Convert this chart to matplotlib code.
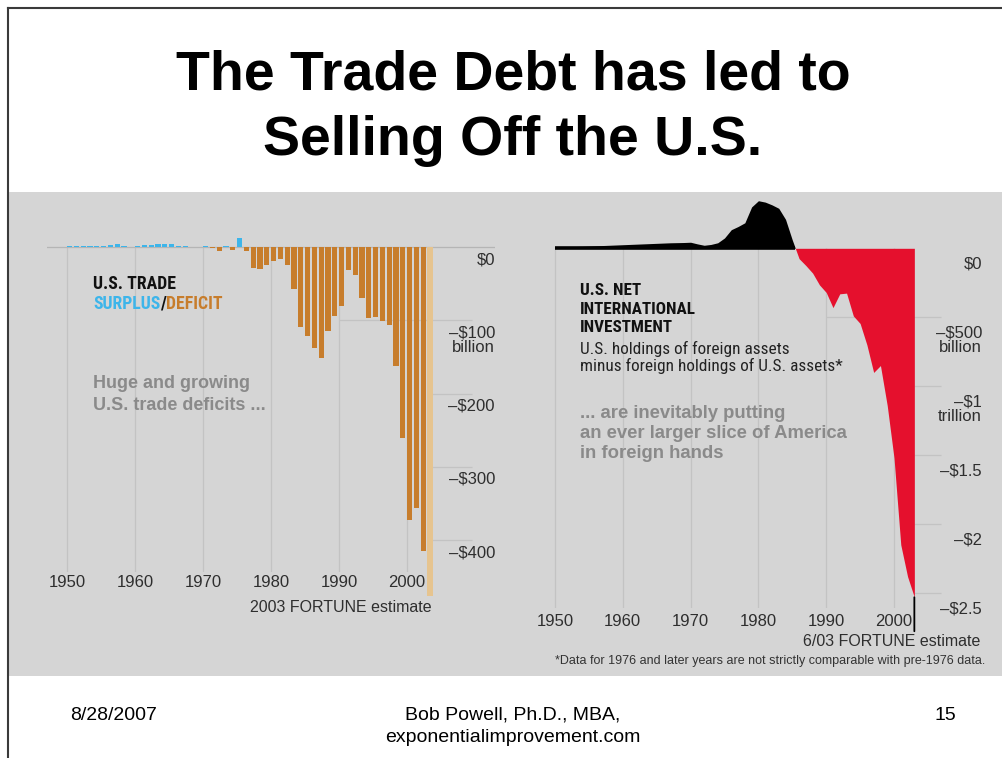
import numpy as np
import matplotlib
matplotlib.use('Agg')
import matplotlib.pyplot as plt
from matplotlib import font_manager
from matplotlib.patches import Rectangle
from matplotlib.lines import Line2D

W, H = 1003, 758

# ---- data ----
trade_years = np.arange(1950, 2004)
# U.S. trade surplus/deficit, $ billion (2003 = FORTUNE estimate)
trade_balance = [1.5, 2, 2, 1.5, 2, 2, 3, 4.5, 2, 0.5,
                 2, 2.5, 3, 3.5, 4.5, 4, 2, 2, 0.5, 0.3,
                 2, -1.5, -5, 2, -4, 12, -6, -28, -30, -24,
                 -19.5, -17, -24, -57, -109, -122, -138, -151, -114, -94,
                 -81, -31, -38, -70, -97, -95, -101, -106, -163, -260,
                 -372, -356, -415, -476]
trade_ticks = [0, -100, -200, -300, -400]
trade_labels = ['$0', '\u2013$100\nbillion', '\u2013$200', '\u2013$300', '\u2013$400']

niip_years = np.arange(1950, 2004)
# U.S. net international investment position, $ billion
niip = [10, 11, 12, 13, 14, 16, 18, 20, 22, 24,
        26, 28, 30, 32, 34, 36, 38, 40, 41, 42,
        44, 32, 22, 28, 40, 75, 135, 158, 185, 300,
        345, 335, 315, 290, 210, 60, -75, -125, -180, -265,
        -320, -430, -330, -325, -490, -545, -700, -900, -850, -1140,
        -1520, -2150, -2380, -2530]
niip_ticks = [0, -500, -1000, -1500, -2000, -2500]
niip_labels = ['$0', '\u2013$500\nbillion', '\u2013$1\ntrillion', '\u2013$1.5', '\u2013$2', '\u2013$2.5']

decades = list(range(1950, 2001, 10))

BLUE = '#3db5ea'
ORANGE = '#c77d2c'
TAN = '#e6c48f'
RED = '#e5102d'
GRAY_TXT = '#8a8a8a'
DARK = '#2e2e2e'
GRID = '#c3c3c3'
PANEL = '#d5d5d5'

names = {f.name for f in font_manager.fontManager.ttflist}
COND = next((n for n in ['Roboto Condensed', 'Liberation Sans Narrow', 'DejaVu Sans Condensed',
                         'Open Sans Condensed'] if n in names), 'Roboto')
SANS = 'Liberation Sans'


def fx(x):
    return x / W


def fy(y):
    return 1 - y / H


fig = plt.figure(figsize=(W / 100, H / 100), dpi=100)
fig.patch.set_facecolor('white')

# grey panel and slide frame
fig.add_artist(Rectangle((fx(9), fy(676)), fx(994), 484 / H, transform=fig.transFigure,
                         facecolor=PANEL, edgecolor='none', zorder=-5))
fig.add_artist(Line2D([fx(8), fx(8)], [fy(8), fy(758)], transform=fig.transFigure, color='#3a3a3a', lw=1.5))
fig.add_artist(Line2D([fx(8), fx(1003)], [fy(8), fy(8)], transform=fig.transFigure, color='#3a3a3a', lw=1.5))

# title
fig.text(fx(513), fy(76), 'The Trade Debt has led to', ha='center', va='center',
         fontsize=40, fontweight='bold', family=SANS)
fig.text(fx(513), fy(141), 'Selling Off the U.S.', ha='center', va='center',
         fontsize=40, fontweight='bold', family=SANS)

# footer
fig.text(fx(70), fy(716), '8/28/2007', ha='left', va='center', fontsize=14, family=SANS)
fig.text(fx(513), fy(715), 'Bob Powell, Ph.D., MBA,', ha='center', va='center', fontsize=14, family=SANS)
fig.text(fx(513), fy(738), 'exponentialimprovement.com', ha='center', va='center', fontsize=14, family=SANS)
fig.text(fx(945), fy(716), '15', ha='center', va='center', fontsize=14, family=SANS)


def make_axes(left, right, top, bottom):
    ax = fig.add_axes([fx(left), fy(bottom), fx(right - left), (bottom - top) / H])
    ax.set_facecolor('none')
    for s in ax.spines.values():
        s.set_visible(False)
    ax.tick_params(axis='x', length=0, labelsize=12, labelcolor=DARK)
    ax.set_yticks([])
    return ax


# ---------------- left: trade balance ----------------
axl = make_axes(46.6, 495, 217.7, 572)
axl.set_xlim(1947, 2012.94)
axl.set_ylim(-443.4, 40)
axl.vlines(decades, axl.get_ylim()[0], 0, color=GRID, lw=0.9, zorder=1)
axl.hlines(trade_ticks[1], 1990, 2009.5, color=GRID, lw=0.9, zorder=1)
axl.hlines(trade_ticks[2:], trade_years[-1], 2009.5, color=GRID, lw=0.9, zorder=1)
axl.axhline(0, color='#b5b5b5', lw=0.9, zorder=1)
bar_colors = [BLUE if v > 0 else ORANGE for v in trade_balance]
bar_colors[-1] = TAN
axl.bar(trade_years, trade_balance, width=0.76, align='edge', color=bar_colors,
        zorder=2, clip_on=False)
axl.set_xticks(decades)
axl.set_xticklabels([str(d) for d in decades], family=SANS)
axl.tick_params(axis='x', pad=2.5)
for v, lab in zip(trade_ticks, trade_labels):
    axl.annotate(lab, xy=(1, v), xycoords=('axes fraction', 'data'), xytext=(0, -5),
                 textcoords='offset pixels', ha='right', va='top', fontsize=12,
                 color=DARK, family=SANS, linespacing=0.95, multialignment='right')

fig.text(fx(93), fy(284), 'U.S. TRADE', ha='left', va='center', fontsize=12.8,
         fontweight='bold', family=COND, color='#111111')
t2 = fig.text(fx(93), fy(304), 'SURPLUS', ha='left', va='center', fontsize=12.8,
              fontweight='bold', family=COND, color=BLUE)
t3 = axl.annotate('/', xy=(1, 0.5), xycoords=t2, ha='left', va='center', fontsize=12.8,
                  fontweight='bold', family=COND, color='#111111')
axl.annotate('DEFICIT', xy=(1, 0.5), xycoords=t3, ha='left', va='center', fontsize=12.8,
             fontweight='bold', family=COND, color=ORANGE)
fig.text(fx(93), fy(384), 'Huge and growing', ha='left', va='center', fontsize=13,
         fontweight='bold', family=SANS, color=GRAY_TXT)
fig.text(fx(93), fy(406), 'U.S. trade deficits ...', ha='left', va='center', fontsize=13,
         fontweight='bold', family=SANS, color=GRAY_TXT)
fig.text(fx(432), fy(607), '2003 FORTUNE estimate', ha='right', va='center', fontsize=11.5,
         family=SANS, color=DARK)

# ---------------- right: net international investment ----------------
axr = make_axes(535, 985, 195, 608)
axr.set_xlim(1947.05, 2013.42)
axr.set_ylim(-2608, 386.5)
axr.vlines(decades, axr.get_ylim()[0], 0, color=GRID, lw=0.9, zorder=1)
axr.hlines(niip_ticks[1], 1990, 2007, color=GRID, lw=0.9, zorder=1)
axr.hlines(niip_ticks[2:], niip_years[-1], 2007, color=GRID, lw=0.9, zorder=1)
vals = np.array(niip, dtype=float)
axr.fill_between(niip_years, vals, 0, where=vals >= 0, interpolate=True, color='black',
                 lw=0, zorder=2)
axr.fill_between(niip_years, vals, 0, where=vals <= 0, interpolate=True, color=RED,
                 lw=0, zorder=2)
i = int(np.argmax(vals < 0))
cross = niip_years[i - 1] + vals[i - 1] / (vals[i - 1] - vals[i])
axr.hlines(0, niip_years[0], cross, color='black', lw=2.6, zorder=3)
axr.annotate('', xy=(niip_years[-1], vals[-1]), xytext=(0, -34), textcoords='offset pixels',
             arrowprops=dict(arrowstyle='-', color='black', lw=1.3, shrinkA=0, shrinkB=0),
             annotation_clip=False)
axr.set_xticks(decades)
axr.set_xticklabels([str(d) for d in decades], family=SANS)
axr.tick_params(axis='x', pad=4.5)
for v, lab in zip(niip_ticks, niip_labels):
    axr.annotate(lab, xy=(1, v), xycoords=('axes fraction', 'data'), xytext=(-3, -8),
                 textcoords='offset pixels', ha='right', va='top', fontsize=12,
                 color=DARK, family=SANS, linespacing=0.95, multialignment='right')

for k, line in enumerate(['U.S. NET', 'INTERNATIONAL', 'INVESTMENT']):
    fig.text(fx(580), fy(291 + 18.5 * k), line, ha='left', va='center', fontsize=12.3,
             fontweight='bold', family=COND, color='#111111')
for k, line in enumerate(['U.S. holdings of foreign assets',
                          'minus foreign holdings of U.S. assets*']):
    fig.text(fx(580), fy(349 + 17 * k), line, ha='left', va='center', fontsize=12.4,
             family=COND, color='#222222')
for k, line in enumerate(['... are inevitably putting', 'an ever larger slice of America',
                          'in foreign hands']):
    fig.text(fx(580), fy(413 + 20.5 * k), line, ha='left', va='center', fontsize=13.3,
             fontweight='bold', family=SANS, color=GRAY_TXT)
fig.text(fx(980), fy(641), '6/03 FORTUNE estimate', ha='right', va='center', fontsize=11.5,
         family=SANS, color=DARK)
fig.text(fx(985), fy(661), '*Data for 1976 and later years are not strictly comparable with pre-1976 data.',
         ha='right', va='center', fontsize=9, family=SANS, color='#333333')

fig.savefig('out.png', dpi=100)
